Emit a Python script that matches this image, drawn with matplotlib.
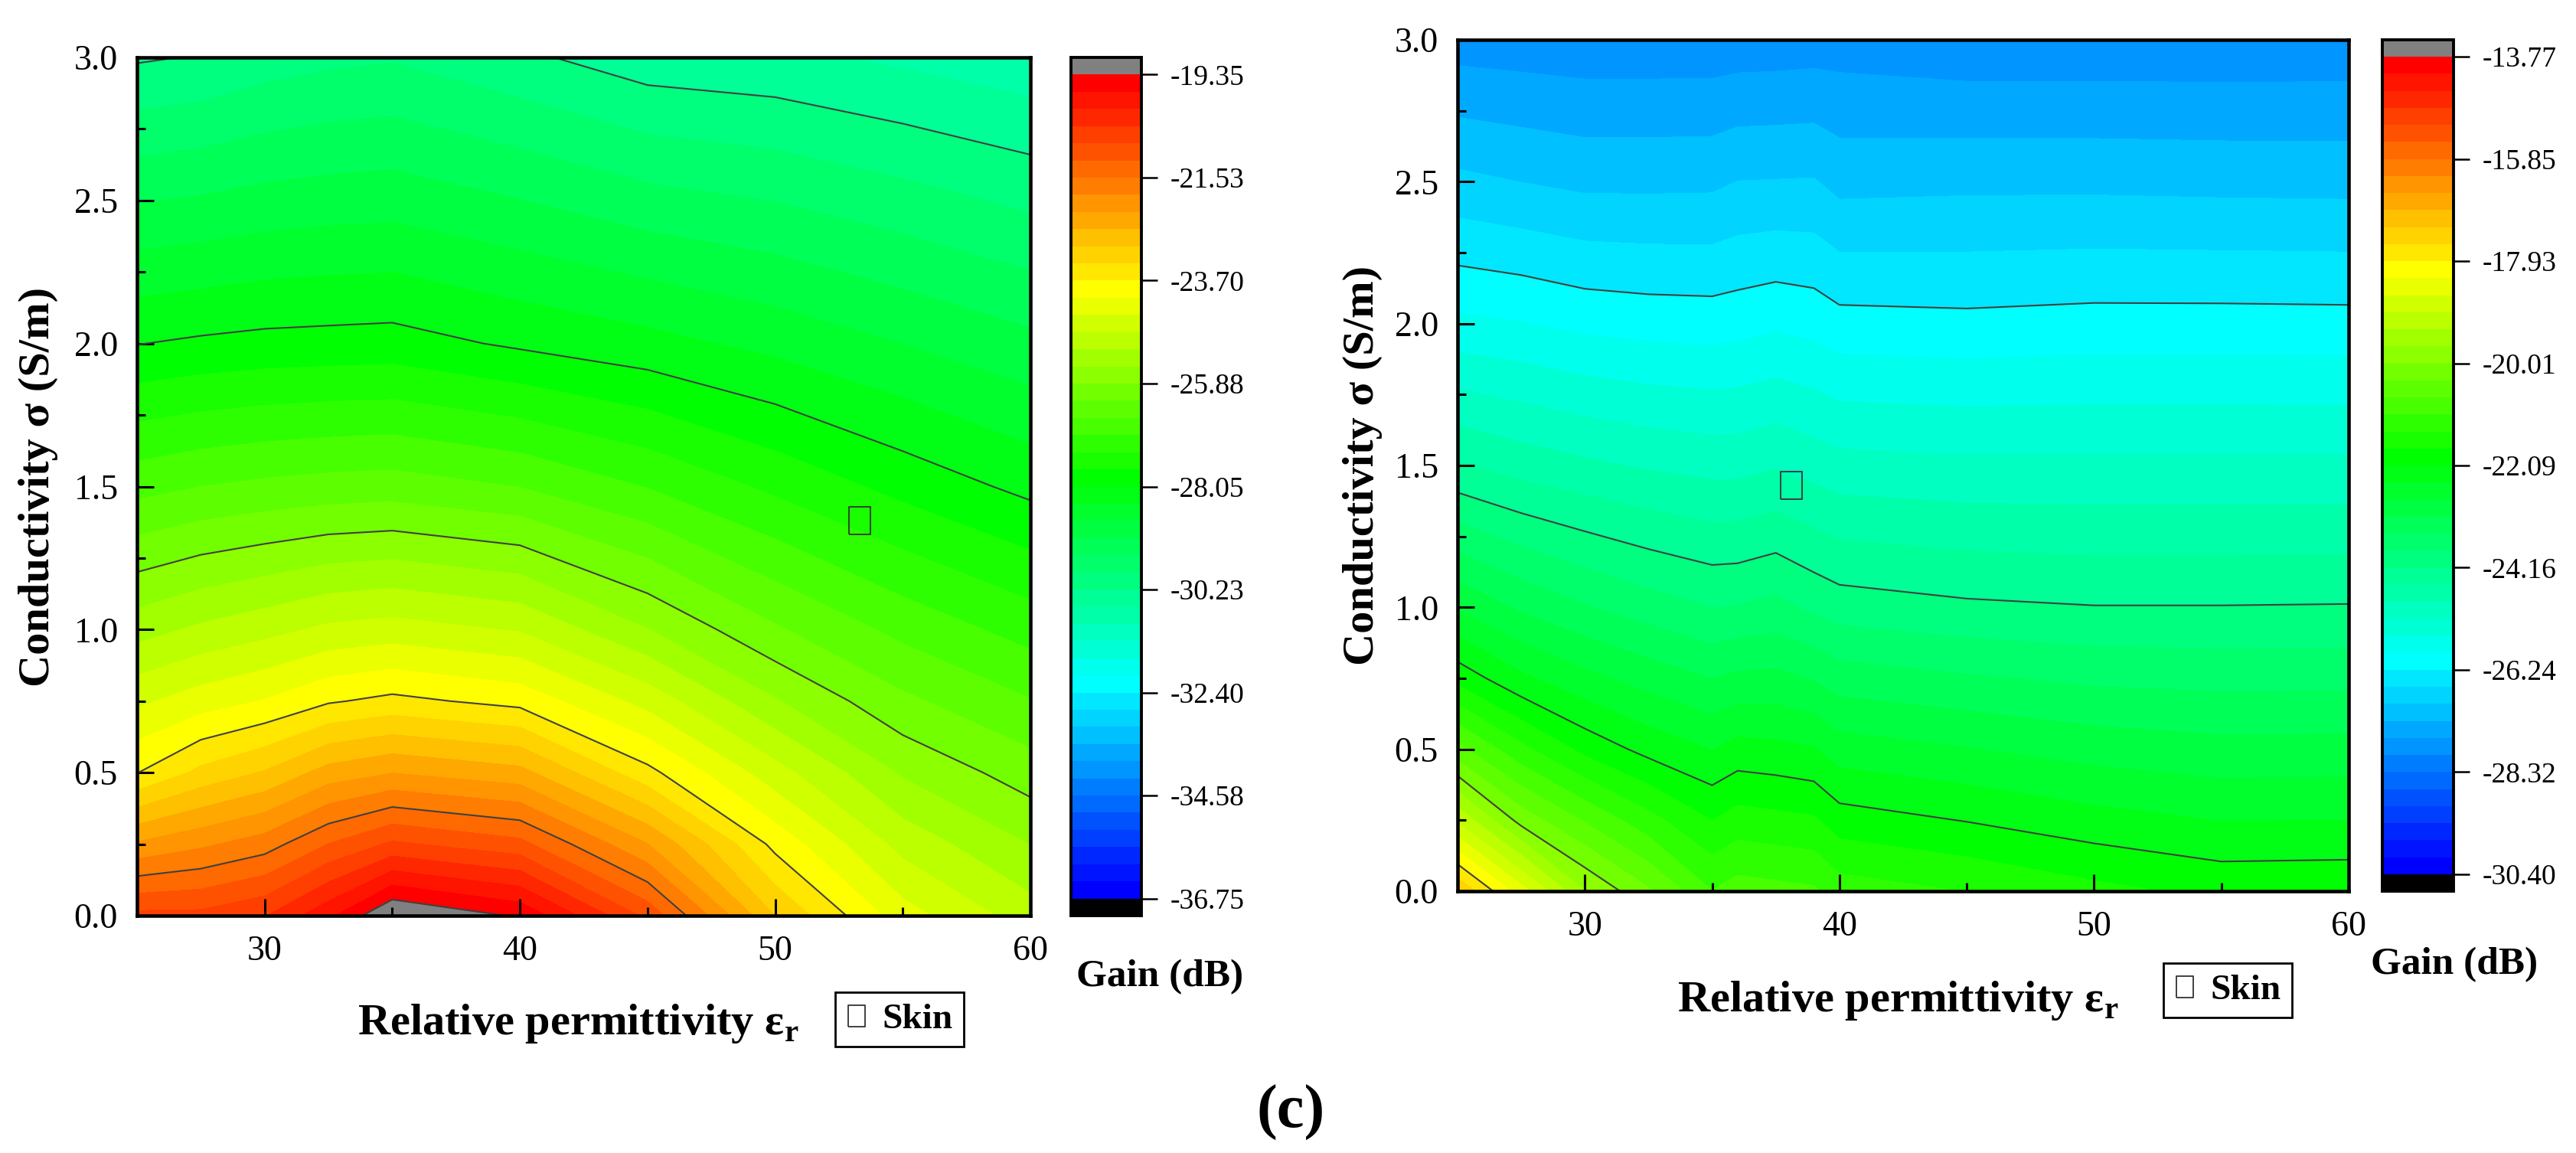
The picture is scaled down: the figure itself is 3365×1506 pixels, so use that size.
import numpy as np
import matplotlib
matplotlib.use("Agg")
import matplotlib.pyplot as plt
from matplotlib.colors import LinearSegmentedColormap, ListedColormap
from matplotlib.ticker import FormatStrFormatter, MultipleLocator, FixedLocator
from matplotlib.path import Path

plt.rcParams['font.family'] = 'serif'
plt.rcParams['font.serif'] = ['Liberation Serif', 'DejaVu Serif']
plt.rcParams['mathtext.fontset'] = 'custom'
plt.rcParams['mathtext.rm'] = 'Liberation Serif'
plt.rcParams['mathtext.bf'] = 'Liberation Serif:bold'

#%% data
sigma_grid = [0.0, 0.25, 0.5, 0.75, 1.0, 1.5, 2.0, 2.5, 3.0]

eps_left = [25, 27.5, 30, 32.5, 35, 40, 45, 50, 55, 60]
gain_left = [
    [-20.69, -20.69, -20.46, -19.80, -18.95, -19.40, -20.89, -22.98, -24.27, -24.98],
    [-22.20, -21.96, -21.70, -21.15, -20.73, -21.04, -22.24, -23.81, -24.92, -25.52],
    [-23.71, -23.24, -22.94, -22.46, -22.26, -22.49, -23.59, -24.64, -25.56, -26.06],
    [-24.50, -24.24, -24.04, -23.74, -23.60, -23.82, -24.56, -25.48, -26.16, -26.58],
    [-25.30, -25.08, -24.91, -24.71, -24.63, -24.82, -25.50, -26.19, -26.71, -27.11],
    [-26.73, -26.60, -26.52, -26.46, -26.43, -26.61, -26.98, -27.41, -27.81, -28.15],
    [-28.06, -27.99, -27.94, -27.92, -27.90, -28.11, -28.29, -28.52, -28.78, -29.04],
    [-29.16, -29.10, -29.01, -28.96, -28.93, -29.13, -29.37, -29.51, -29.72, -29.94],
    [-30.27, -30.20, -30.05, -29.95, -29.90, -30.15, -30.43, -30.50, -30.66, -30.83],
]
cbar_left_ticks = ["-36.75", "-34.58", "-32.40", "-30.23", "-28.05",
                   "-25.88", "-23.70", "-21.53", "-19.35"]
skin_left = (53.3, 1.38)

eps_right = [25, 27.5, 30, 32.5, 35, 36, 37.5, 39, 40, 45, 50, 55, 60]
gain_right = [
    [-17.25, -18.46, -19.64, -20.30, -21.04, -20.89, -20.94, -20.99, -21.22, -21.40, -21.64, -21.83, -21.81],
    [-19.03, -20.14, -20.74, -21.27, -21.74, -21.59, -21.64, -21.69, -21.92, -22.10, -22.30, -22.44, -22.43],
    [-20.59, -21.30, -21.84, -22.20, -22.44, -22.30, -22.34, -22.41, -22.61, -22.76, -22.92, -23.01, -23.00],
    [-21.86, -22.36, -22.68, -22.92, -23.13, -23.05, -23.03, -23.15, -23.30, -23.43, -23.54, -23.58, -23.57],
    [-22.82, -23.18, -23.44, -23.65, -23.82, -23.80, -23.71, -23.89, -23.99, -24.10, -24.15, -24.15, -24.14],
    [-24.48, -24.66, -24.79, -24.90, -24.97, -24.97, -24.89, -25.00, -25.08, -25.13, -25.13, -25.13, -25.13],
    [-25.82, -25.88, -25.99, -26.04, -26.06, -26.03, -25.96, -26.02, -26.12, -26.15, -26.11, -26.11, -26.12],
    [-26.85, -26.94, -27.02, -27.02, -27.01, -26.93, -26.92, -26.91, -27.05, -27.02, -27.02, -27.04, -27.05],
    [-27.80, -27.83, -27.86, -27.86, -27.86, -27.84, -27.83, -27.81, -27.80, -27.88, -27.88, -27.88, -27.87],
]
cbar_right_ticks = ["-30.40", "-28.32", "-26.24", "-24.16", "-22.09",
                    "-20.01", "-17.93", "-15.85", "-13.77"]
skin_right = (38.1, 1.43)

#%% colour map (Origin-like rainbow, 48 bands)
base = LinearSegmentedColormap.from_list(
    "rb", [(0, "#0000ff"), (12 / 47, "#00ffff"), (24 / 47, "#00ff00"),
           (35 / 47, "#ffff00"), (1, "#ff0000")])
cmap = ListedColormap(base(np.linspace(0, 1, 48)))
cmap.set_under("black")
cmap.set_over("#808080")

box = Path([(-0.39, -0.5), (0.39, -0.5), (0.39, 0.5), (-0.39, 0.5), (-0.39, -0.5)])

fig = plt.figure(figsize=(33.65, 15.06), dpi=100)


def panel(ax_rect, cax_rect, eps, gain, ticklabels, skin, xlab_y, ylab_x,
          leg_xy, gain_xy):
    ax = fig.add_axes(ax_rect)
    cax = fig.add_axes(cax_rect)
    z = np.array(gain)
    vmin, vmax = float(ticklabels[0]), float(ticklabels[-1])
    levels = np.linspace(vmin, vmax, 49)
    major = np.linspace(vmin, vmax, 9)
    cf = ax.contourf(eps, sigma_grid, z, levels=levels, cmap=cmap, extend="both")
    ax.contour(eps, sigma_grid, z, levels=major, colors="#404040",
               linewidths=1.5, linestyles="solid")
    ax.plot(skin[0], skin[1], ls="none", marker=box, ms=26, mfc="none",
            mec="#333333", mew=1.3, label="Skin")

    ax.set_xlim(25, 60)
    ax.set_ylim(0, 3)
    ax.xaxis.set_major_locator(FixedLocator([30, 40, 50, 60]))
    ax.xaxis.set_minor_locator(MultipleLocator(5))
    ax.yaxis.set_major_locator(MultipleLocator(0.5))
    ax.yaxis.set_minor_locator(MultipleLocator(0.25))
    ax.yaxis.set_major_formatter(FormatStrFormatter("%.1f"))
    ax.tick_params(which="both", direction="in", top=False, right=False,
                   labelsize=33, pad=18)
    ax.tick_params(which="major", length=16, width=2.2)
    ax.tick_params(which="minor", length=8, width=2.2)
    for s in ax.spines.values():
        s.set_linewidth(3.3)

    ax.set_xlabel(r"Relative permittivity ε$_\mathbf{r}$", fontsize=42,
                  fontweight="bold", va="baseline")
    ax.xaxis.set_label_coords(0.494, xlab_y)
    ax.set_ylabel("Conductivity σ (S/m)", fontsize=42, fontweight="bold",
                  va="center")
    ax.yaxis.set_label_coords(ylab_x, 0.5)

    cb = fig.colorbar(cf, cax=cax, ticks=major, extendrect=True,
                      extendfrac=1 / 48)
    cb.ax.set_yticklabels(ticklabels)
    cb.ax.minorticks_off()
    cb.ax.tick_params(direction="out", length=15, width=1.8, labelsize=27, pad=12)
    cb.outline.set_linewidth(2.8)

    fig.text(gain_xy[0], gain_xy[1], "Gain (dB)", fontsize=37,
             fontweight="bold", ha="left", va="baseline")

    ax.legend(loc="upper left", bbox_to_anchor=leg_xy,
              bbox_transform=fig.transFigure, prop={"size": 34, "weight": "bold"},
              markerscale=0.75, handlelength=0.6, handletextpad=0.4,
              borderpad=0.3, borderaxespad=0, fancybox=False, framealpha=1,
              edgecolor="black").get_frame().set_linewidth(2)
    return ax


panel([0.05319, 0.20584, 0.34681, 0.74436], [0.41575, 0.20584, 0.02734, 0.74436],
      eps_left, gain_left, cbar_left_ticks, skin_left, -0.1383, -0.111,
      (0.3242, 0.1394), (0.4178, 0.1448))
panel([0.56582, 0.22709, 0.34591, 0.73838], [0.92481, 0.22709, 0.02764, 0.73838],
      eps_right, gain_right, cbar_right_ticks, skin_right, -0.1412, -0.1065,
      (0.8398, 0.1647), (0.9204, 0.1554))

fig.text(0.501, 0.035, "(c)", fontsize=58, fontweight="bold", ha="center",
         va="center")

fig.savefig("out.png", dpi=100)
